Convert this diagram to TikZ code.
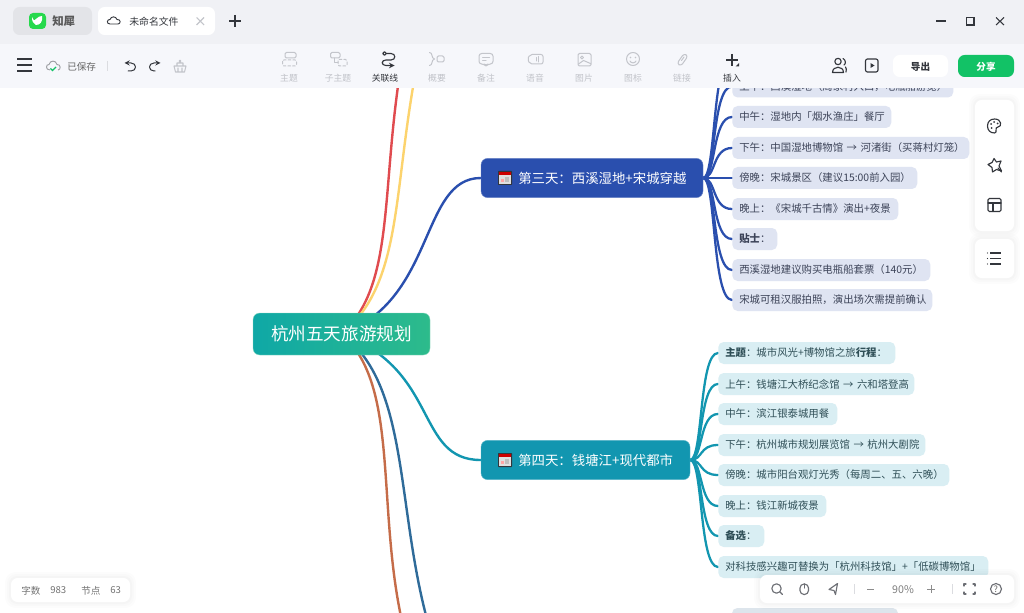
\documentclass[tikz,border=0pt]{standalone}
\usepackage{fontspec}
\setmainfont{Noto Sans CJK SC}
\usetikzlibrary{calc,backgrounds}
\definecolor{dayA}{HTML}{2A4FAE}
\definecolor{dayB}{HTML}{1296B0}
\definecolor{leafA}{HTML}{DFE4F2}
\definecolor{leafB}{HTML}{D9EEF3}
\definecolor{leafC}{HTML}{DDE5EC}
\definecolor{txtA}{HTML}{3C4358}
\definecolor{txtB}{HTML}{2F4F57}
\definecolor{cred}{HTML}{E04B4F}
\definecolor{cyel}{HTML}{FCD36D}
\definecolor{cbrn}{HTML}{C56C49}
\definecolor{cslt}{HTML}{2F6B99}
\definecolor{barA}{HTML}{F0F1F5}
\definecolor{barB}{HTML}{F6F7FB}
\definecolor{tabg}{HTML}{E3E4E8}
\definecolor{gic}{HTML}{C3C5CB}
\definecolor{dic}{HTML}{33363C}
\definecolor{gtxt}{HTML}{C0C2C8}
\definecolor{okgreen}{HTML}{12C266}
\definecolor{rootL}{HTML}{0FA8A6}
\definecolor{rootR}{HTML}{2DBB8B}
\newcommand{\fs}[1]{\fontsize{#1}{#1}\selectfont}
\newcommand{\zc}{^^^^ff1a}
\newcommand{\zl}{^^^^ff08}
\newcommand{\zr}{^^^^ff09}
\newcommand{\zd}{^^^^ff0c}
\newcommand{\leafnode}[6]{%
  \pgfmathsetmacro{\leafw}{(#4-#2)*0.75-10.5}%
  \node[#5, text width=\leafw pt] (#1) at (#2,#3) {\mbox{#6}};}
\newcommand{\calicon}[2]{%
  \fill[rounded corners=.5pt,fill=dic] (#1-7,#2-7) rectangle (#1+7,#2+7);
  \fill[fill=white!88!black] (#1-6,#2-4) rectangle (#1+6,#2+6);
  \fill[fill=red!80!black] (#1-6,#2-6) rectangle (#1+6,#2-3);
  \fill[fill=red!35!white] (#1-4,#2+1) rectangle (#1-1,#2+4);
  \fill[fill=black!25] (#1,#2-1) rectangle (#1+4,#2+4);}
\newcommand{\softpanel}[4]{%
  \fill[black,opacity=.012,rounded corners=8pt] (#1-6,#2-6) rectangle (#3+6,#4+6);
  \fill[black,opacity=.012,rounded corners=7pt] (#1-4,#2-4) rectangle (#3+4,#4+4);
  \fill[black,opacity=.014,rounded corners=6pt] (#1-2,#2-2) rectangle (#3+2,#4+2);
  \fill[white,rounded corners=5pt] (#1,#2) rectangle (#3,#4);}
\tikzset{
  leafbase/.style={anchor=west,minimum height=16.5pt,inner xsep=5.25pt,inner ysep=0pt,rounded corners=4pt,align=left,font=\fs{7.8pt}},
  leafa/.style={leafbase,fill=leafA,text=txtA},
  leafb/.style={leafbase,fill=leafB,text=txtB},
  daynode/.style={anchor=center,rounded corners=5pt,inner sep=0pt,text=white,line width=.3pt},
  branch/.style={line width=1.8pt,line cap=round},
  fan/.style={line width=1.7pt,line cap=round},
  gi/.style={draw=gic,line width=.75pt,line cap=round,line join=round},
  di/.style={draw=dic,line width=.85pt,line cap=round,line join=round},
  toollabel/.style={font=\fs{6.6pt},text=gtxt,inner sep=0pt},
  uilabel/.style={inner sep=0pt,text=dic},
}
\begin{document}
\begin{tikzpicture}[x=0.75pt,y=-0.75pt]
\useasboundingbox (0,0) rectangle (1024,613);

% main nodes
\node[daynode,minimum width=132.75pt,minimum height=31.5pt,left color=rootL,right color=rootR,draw=rootR!50!white,font=\fs{13.2pt}] (root) at (341.5,334) {杭州五天旅游规划};
\node[daynode,fill=dayA,minimum width=166.5pt,minimum height=29.5pt,draw=dayA!70!white] (dthree) at (592,178) {};
\node[daynode,fill=dayB,minimum width=156.75pt,minimum height=29.5pt,draw=dayB!70!white] (dfour) at (585.5,460) {};
\calicon{505}{178}
\calicon{505}{460}
\node[anchor=west,inner sep=0pt,text=white,font=\fs{10.05pt}] (dthreetxt) at (518,178) {第三天\zc{}西溪湿地+宋城穿越};
\node[anchor=west,inner sep=0pt,text=white,font=\fs{10.05pt}] (dfourtxt) at (518,460) {第四天\zc{}钱塘江+现代都市};

\coordinate (outred) at (402,60);
\coordinate (outyel) at (418,60);
\coordinate (outbrn) at (404,630);
\coordinate (outslt) at (430,630);
\coordinate (hiddentop) at (732,56);

% leaves
\leafnode{aone}{732}{86.5}{953}{leafa}{上午\zc{}西溪湿地\zl{}周家村入口\zd{}电瓶船游览\zr{}}
\leafnode{atwo}{732}{117}{891}{leafa}{中午\zc{}湿地内「烟水渔庄」餐厅}
\leafnode{athree}{732}{148}{969}{leafa}{下午\zc{}中国湿地博物馆 → 河渚街\zl{}买蒋村灯笼\zr{}}
\leafnode{afour}{732}{178}{917}{leafa}{傍晚\zc{}宋城景区\zl{}建议15:00前入园\zr{}}
\leafnode{afive}{732}{209}{898}{leafa}{晚上\zc{}《宋城千古情》演出+夜景}
\leafnode{asix}{732}{239}{777}{leafa}{\textbf{贴士}\zc{}}
\leafnode{aseven}{732}{270}{930}{leafa}{西溪湿地建议购买电瓶船套票\zl{}140元\zr{}}
\leafnode{aeight}{732}{300}{932}{leafa}{宋城可租汉服拍照\zd{}演出场次需提前确认}

\leafnode{bone}{718}{353}{895}{leafb}{\textbf{主题}\zc{}城市风光+博物馆之旅\textbf{行程}\zc{}}
\leafnode{btwo}{718}{384}{914}{leafb}{上午\zc{}钱塘江大桥纪念馆 → 六和塔登高}
\leafnode{bthree}{718}{414}{837}{leafb}{中午\zc{}滨江银泰城用餐}
\leafnode{bfour}{718}{445}{925}{leafb}{下午\zc{}杭州城市规划展览馆 → 杭州大剧院}
\leafnode{bfive}{718}{475}{949}{leafb}{傍晚\zc{}城市阳台观灯光秀\zl{}每周二、五、六晚\zr{}}
\leafnode{bsix}{718}{506}{826}{leafb}{晚上\zc{}钱江新城夜景}
\leafnode{bseven}{718}{536}{764}{leafb}{\textbf{备选}\zc{}}
\leafnode{beight}{718}{567}{988}{leafb}{对科技感兴趣可替换为「杭州科技馆」+「低碳博物馆」}
\fill[leafC,rounded corners=4pt] (732,608) rectangle (898,640);

% connectors behind nodes
\begin{scope}[on background layer]
\fill[white] (0,0) rectangle (1024,613);
\draw[branch,cred] (root.center) .. controls (396,285) and (380,190) .. (outred);
\draw[branch,cyel] (root.center) .. controls (404,283) and (392,190) .. (outyel);
\draw[branch,dayA] (root.center) .. controls (436,300) and (420,178) .. (dthree.west);
\draw[branch,dayB] (root.center) .. controls (440,370) and (415,460) .. (dfour.west);
\draw[branch,cbrn] (root.center) .. controls (401,385) and (375,510) .. (outbrn);
\draw[branch,cslt] (root.center) .. controls (411,385) and (395,510) .. (outslt);
\draw[fan,dayA] (dthree.east) .. controls (716,178) and (712,56) .. (hiddentop);
\foreach \t in {aone,atwo,athree,afive,asix,aseven,aeight}{
  \draw[fan,dayA] (dthree.east) .. controls (716,178) and (712,0|-\t.west) .. (\t.west);
}
\draw[fan,dayA] (dthree.east) -- (afour.west);
\foreach \t in {bone,btwo,bthree,bfour,bfive,bsix,bseven,beight}{
  \draw[fan,dayB] (dfour.east) .. controls (703,460) and (699,0|-\t.west) .. (\t.west);
}
\end{scope}

% title bar and tool bar
\fill[barA] (0,0) rectangle (1024,44);
\fill[barB] (0,44) rectangle (1024,88.5);
\fill[tabg,rounded corners=5pt] (13,7) rectangle (92,35);
\fill[white,rounded corners=5pt] (98,7) rectangle (215,35);
\fill[green!65!teal!85!white,rounded corners=3pt] (29,13) rectangle (46,29);
\fill[white] (32,17) .. controls (34,21) and (34,21) .. (36,19) .. controls (38,17) and (40,16) .. (42,16) .. controls (43,22) and (40,25) .. (36,25) .. controls (33,24) and (32,21) .. (32,17) -- cycle;
\node[uilabel,anchor=west,font=\fs{8.6pt}\bfseries,text=black!65] (brand) at (52,21) {知犀};
\draw[di,line width=.7pt] (110,24) .. controls (106,24) and (107,19) .. (110,19.5) .. controls (111,16) and (116,16) .. (117,19.5) .. controls (121,19) and (121,24) .. (118,24) -- cycle;
\node[uilabel,anchor=west,font=\fs{7.4pt}] (tabname) at (129,21.5) {未命名文件};
\draw[gic,line width=.8pt] (196.5,17.5) -- (204,25) (204,17.5) -- (196.5,25);
\draw[dic,line width=1pt] (229,21) -- (241,21) (235,15) -- (235,27);
\draw[dic,line width=.9pt] (936,21) -- (946,21);
\draw[dic,line width=.8pt] (966.5,17.5) rectangle (974,25);
\draw[dic,line width=.8pt] (996,17.5) -- (1004,25) (1004,17.5) -- (996,25);

% left of tool bar
\draw[dic,line width=1.1pt] (17,59) -- (32,59) (17,65) -- (32,65) (17,71) -- (32,71);
\draw[gic!80!black,line width=.7pt] (50,70) .. controls (45,70) and (46,64) .. (49,64.5) .. controls (50,60) and (56,60) .. (57,64.5) .. controls (61,64) and (61,70) .. (58,70);
\draw[okgreen,line width=.8pt] (50.5,68.5) -- (52.5,70.5) -- (56,67);
\node[uilabel,anchor=west,font=\fs{7.2pt},text=black!60] (saved) at (67,66.5) {已保存};
\draw[gic!60,line width=.6pt] (107.5,61) -- (107.5,71);
\draw[di,->,>=stealth,line width=.75pt] (128,71) -- (131,71) .. controls (137,71) and (137,63) .. (131,63) -- (124.5,63);
\draw[di,->,>=stealth,line width=.75pt] (155,71) -- (154,71) .. controls (148,71) and (148,63) .. (154,63) -- (160.5,63);
\draw[gi,line width=.8pt] (174,66) -- (186,66) -- (184.5,72) -- (175.5,72) -- cycle (177,66) -- (177,63) -- (183,63) -- (183,66) (179.5,63) -- (179.5,60.5) -- (180.5,60.5) -- (180.5,63) (178,68) -- (178,72) (182,68) -- (182,72);

% tool bar icons
\draw[gi,rounded corners=1pt] (285,52.5) rectangle (296,58);
\draw[gi,dashed,dash pattern=on 2pt off 1.5pt,rounded corners=1pt] (282.5,60) rectangle (296.5,66);
\draw[gi,rounded corners=1pt] (330.5,52.5) rectangle (340,58);
\draw[gi] (334,58) -- (334,62.5) -- (338,62.5);
\draw[gi,dashed,dash pattern=on 2pt off 1.5pt,rounded corners=1pt] (338,59.5) rectangle (347,66);
\draw[di] (384.5,53.5) circle (1.8);
\draw[di,->,>=stealth] (386.5,53.5) -- (391,53.5) .. controls (396,53.5) and (396,60) .. (391,60) -- (386,60) .. controls (381,60) and (381,65.5) .. (386,65.5) -- (394.5,65.5);
\draw[gi] (429.5,52.5) .. controls (433,52.5) and (431,58.5) .. (434.5,59) .. controls (431,59.5) and (433,65.5) .. (429.5,65.5);
\draw[gi,rounded corners=1pt] (437,56) rectangle (444,62);
\draw[gi,rounded corners=2pt] (479,53.5) -- (493,53.5) -- (493,64) -- (488,64) -- (486,66) -- (484,64) -- (479,64) -- cycle;
\draw[gi] (482.5,57.5) -- (489.5,57.5) (482.5,60.5) -- (486,60.5);
\draw[gi,rounded corners=1.5pt] (530,54.5) -- (543,54.5) -- (543,64) -- (530,64) -- (527.5,59.2) -- cycle;
\draw[gi] (536,57.5) -- (536,61) (538.5,56.5) -- (538.5,62);
\draw[gi,rounded corners=1pt] (578,53.5) rectangle (591,66);
\draw[gi] (582,57.5) circle (1.5);
\draw[gi] (578.5,64) -- (583.5,60.5) -- (590.5,63.5);
\draw[gi] (633,59) circle (6.5);
\fill[gic] (630.5,57.5) circle (.8) (635.5,57.5) circle (.8);
\draw[gi] (630,61) .. controls (631,63.5) and (635,63.5) .. (636,61);
\draw[gi,rounded corners=2pt] (677,63.5) -- (684,53.5) -- (688,56) -- (681,66) -- cycle;
\draw[gi] (681.5,60.5) -- (684,57);
\draw[dic,line width=1pt] (726,60) -- (738,60) (732,54) -- (732,66);
\fill[dic] (739,63) -- (739,66.5) -- (735.5,66.5) -- cycle;

\foreach \n/\x/\t in {lzt/289/主题,lzzt/338/子主题,lgy/437/概要,lbz/486/备注,lyy/535/语音,ltp/584/图片,ltb/633/图标,llj/682/链接}{
  \node[toollabel] (\n) at (\x,78) {\t};
}
\node[toollabel,text=dic] (lgl) at (385,78) {关联线};
\node[toollabel,text=dic] (lcr) at (732,78) {插入};

% right of tool bar
\draw[di] (838,61.5) circle (3.2);
\draw[di] (832.5,72.5) .. controls (832.5,65.5) and (843.5,65.5) .. (843.5,72.5) -- cycle;
\draw[di] (843,58.5) .. controls (846,60) and (846,64) .. (844,65) (845.5,67) .. controls (846.5,68) and (846.5,70) .. (846,72);
\draw[di,rounded corners=1.5pt] (865.5,59) rectangle (878,72);
\fill[dic] (870.5,63) -- (874.5,65.5) -- (870.5,68) -- cycle;
\fill[white,rounded corners=5pt] (893,55) rectangle (948,77);
\node[uilabel,font=\fs{7.2pt}\bfseries] (export) at (920.5,66.5) {导出};
\fill[okgreen,rounded corners=5pt] (958,55) rectangle (1014,77);
\node[uilabel,text=white,font=\fs{7.2pt}\bfseries] (share) at (986,66.5) {分享};

% side panels
\softpanel{975}{100}{1014}{231}
\softpanel{975}{239}{1014}{278}
\draw[di] (994.5,119) .. controls (1002,119) and (1002,127) .. (998,127) .. controls (994,127) and (998,133) .. (994.5,133) .. controls (990,133) and (987.5,130) .. (987.5,126) .. controls (987.5,122) and (990,119) .. (994.5,119);
\fill[dic] (991,124) circle (1) (994,122) circle (1) (997.5,123.5) circle (1) (991.5,128) circle (1);
\draw[di] (994,158.5) -- (996.5,162) -- (1001,161) -- (999,166) -- (1001.5,171) -- (996.5,169.5) -- (992.5,172) -- (992,167.5) -- (988,164.5) -- (992,162.5) -- cycle;
\draw[di] (998,168) -- (1001.5,172);
\draw[di,rounded corners=1pt] (988,198.5) rectangle (1001,211.5);
\draw[di] (988,203) -- (1001,203) (993,203) -- (993,211.5);
\draw[dic,line width=.9pt] (990,253) -- (1001,253) (990,258.5) -- (1001,258.5) (990,264) -- (1001,264);
\fill[dic] (987.5,253) circle (.7) (987.5,258.5) circle (.7) (987.5,264) circle (.7);

% bottom bar
\softpanel{760}{575}{1014}{603}
\draw[di,gic!40!dic] (776.5,588.5) circle (4.7);
\draw[di,gic!40!dic] (780,592) -- (782.5,594.5);
\draw[di,gic!40!dic,rounded corners=3pt] (800,584) rectangle (808.5,594.5);
\draw[di,gic!40!dic] (804.2,584) -- (804.2,588);
\draw[di,gic!40!dic,line join=round] (837.5,583.5) -- (829,589.5) -- (834,590.5) -- (835.5,594.5) -- cycle;
\draw[gic!60,line width=.5pt] (854,584) -- (854,594) (952,584) -- (952,594);
\draw[black!45,line width=.7pt] (867,589) -- (874,589);
\node[uilabel,font=\fs{8pt},text=black!50] (zoomlvl) at (903,589.5) {90\%};
\draw[black!45,line width=.7pt] (927,589) -- (935,589) (931,585) -- (931,593);
\draw[di,gic!40!dic] (964,586) -- (964,584) -- (966,584) (973,584) -- (975,584) -- (975,586) (975,592) -- (975,594) -- (973,594) (966,594) -- (964,594) -- (964,592);
\draw[di,gic!40!dic] (996,589) circle (5.5);
\node[uilabel,font=\fs{6.5pt},text=black!65] (helpq) at (996,589.2) {?};

% word count panel
\softpanel{11}{578}{130}{602}
\node[uilabel,anchor=west,font=\fs{7.2pt},text=black!55] (cza) at (21,590.5) {字数};
\node[uilabel,anchor=west,font=\fs{7.2pt},text=black!55] (czb) at (50,590.5) {983};
\node[uilabel,anchor=west,font=\fs{7.2pt},text=black!55] (czc) at (81,590.5) {节点};
\node[uilabel,anchor=west,font=\fs{7.2pt},text=black!55] (czd) at (110,590.5) {63};
\end{tikzpicture}
\end{document}
